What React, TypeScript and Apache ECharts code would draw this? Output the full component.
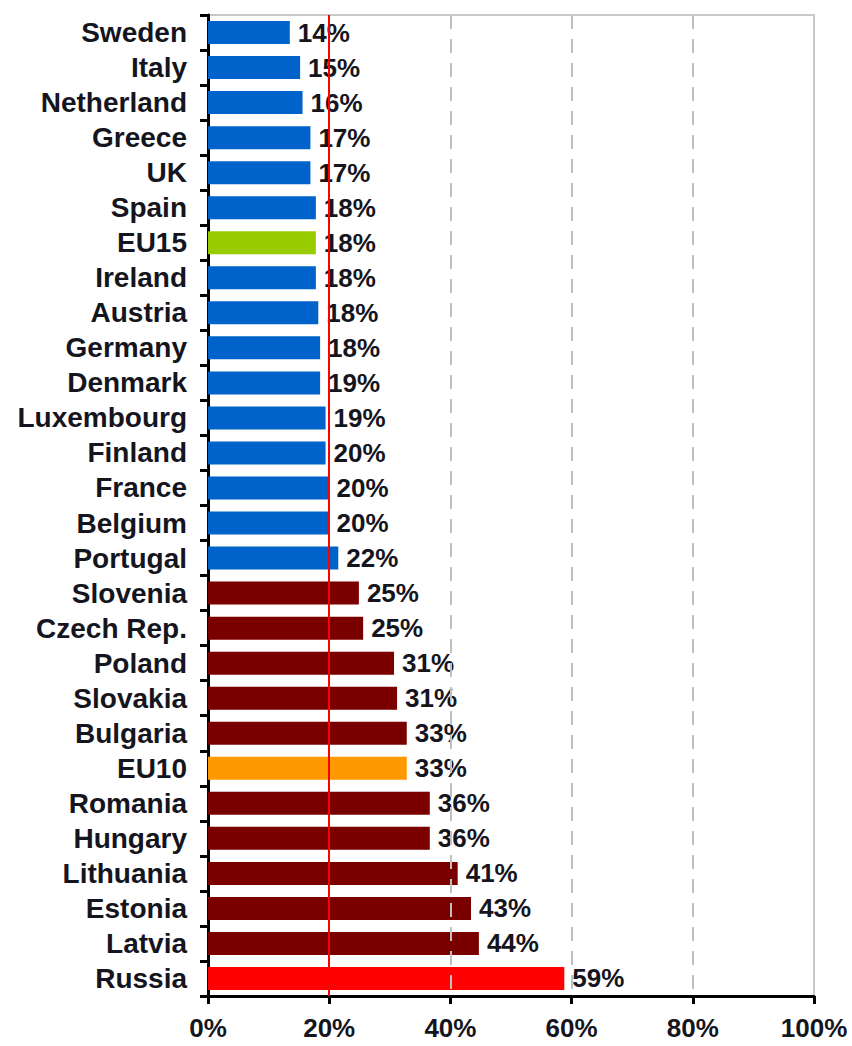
import React, { useEffect, useRef } from "react";
import * as echarts from "echarts";

const categories = [
  "Sweden", "Italy", "Netherland", "Greece", "UK", "Spain", "EU15", "Ireland",
  "Austria", "Germany", "Denmark", "Luxembourg", "Finland", "France", "Belgium",
  "Portugal", "Slovenia", "Czech Rep.", "Poland", "Slovakia", "Bulgaria", "EU10",
  "Romania", "Hungary", "Lithuania", "Estonia", "Latvia", "Russia",
];

const values = [
  13.5, 15.2, 15.6, 16.9, 16.9, 17.8, 17.8, 17.8, 18.2, 18.5, 18.5, 19.4, 19.4,
  19.9, 19.9, 21.5, 24.9, 25.6, 30.7, 31.2, 32.8, 32.8, 36.6, 36.6, 41.2, 43.4,
  44.7, 58.8,
];

const shownLabels = [
  14, 15, 16, 17, 17, 18, 18, 18, 18, 18, 19, 19, 20, 20, 20, 22, 25, 25, 31, 31,
  33, 33, 36, 36, 41, 43, 44, 59,
];

// group of each category: "eu15", "eu15avg", "nms", "eu10avg", "ru"
const groups = [
  "eu15", "eu15", "eu15", "eu15", "eu15", "eu15", "eu15avg", "eu15", "eu15",
  "eu15", "eu15", "eu15", "eu15", "eu15", "eu15", "eu15", "nms", "nms", "nms",
  "nms", "nms", "eu10avg", "nms", "nms", "nms", "nms", "nms", "ru",
];

const xTicks = [0, 20, 40, 60, 80, 100];
const referenceLine = 20;
const dashedLines = [40, 60, 80];

const groupColors: Record<string, string> = {
  eu15: "#0063cc",
  eu15avg: "#99cc00",
  nms: "#7a0000",
  eu10avg: "#ff9900",
  ru: "#ff0000",
};

const FONT = "'Liberation Sans', Arial, sans-serif";
const TEXT = "#151520";

export default function App() {
  const ref = useRef<HTMLDivElement>(null);

  useEffect(() => {
    document.body.style.margin = "0";
    if (!ref.current) return;
    const chart = echarts.init(ref.current, undefined, { renderer: "svg" });
    chart.setOption({
      animation: false,
      backgroundColor: "#ffffff",
      grid: {
        left: 208,
        right: 38,
        top: 15,
        bottom: 50,
        show: true,
        borderColor: "#c8c8c8",
        borderWidth: 2,
        backgroundColor: "transparent",
      },
      xAxis: {
        type: "value",
        min: xTicks[0],
        max: xTicks[xTicks.length - 1],
        interval: xTicks[1] - xTicks[0],
        axisLine: { show: true, lineStyle: { color: "#000", width: 3 } },
        axisTick: { show: true, length: 8, lineStyle: { color: "#000", width: 3 } },
        splitLine: { show: false },
        axisLabel: {
          formatter: "{value}%",
          fontFamily: FONT,
          fontWeight: "bold",
          fontSize: 26,
          color: TEXT,
          margin: 19,
        },
      },
      yAxis: {
        type: "category",
        inverse: true,
        data: categories,
        axisLine: { show: true, lineStyle: { color: "#000", width: 3 } },
        axisTick: { show: true, interval: 0, length: 8, lineStyle: { color: "#000", width: 3 } },
        axisLabel: {
          interval: 0,
          fontFamily: FONT,
          fontWeight: "bold",
          fontSize: 28,
          color: TEXT,
          margin: 21,
        },
        splitLine: { show: false },
      },
      series: [
        {
          type: "line",
          data: [],
          z: 1,
          silent: true,
          markLine: {
            silent: true,
            symbol: "none",
            label: { show: false },
            lineStyle: { color: "#c0c0c0", type: [14, 10], width: 2 },
            data: dashedLines.map((v) => ({ xAxis: v })),
          },
        },
        {
          type: "bar",
          z: 2,
          barWidth: 23,
          data: values.map((v, i) => ({
            value: v,
            itemStyle: { color: groupColors[groups[i]] },
          })),
          label: {
            show: true,
            position: "right",
            distance: 8,
            formatter: (p: any) => shownLabels[p.dataIndex] + "%",
            fontFamily: FONT,
            fontWeight: "bold",
            fontSize: 26,
            color: TEXT,
          },
        },
        {
          type: "line",
          data: [],
          z: 3,
          silent: true,
          markLine: {
            silent: true,
            symbol: "none",
            label: { show: false },
            lineStyle: { color: "#ff0000", type: "solid", width: 2 },
            data: [{ xAxis: referenceLine }],
          },
        },
      ],
    });
    return () => chart.dispose();
  }, []);

  return <div ref={ref} style={{ width: 852, height: 1046 }} />;
}
